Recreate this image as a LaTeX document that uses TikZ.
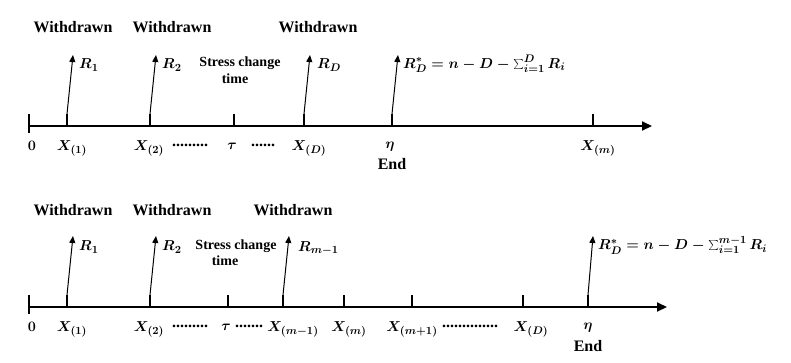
\documentclass[tikz,border=0pt]{standalone}
\usepackage{fontspec}
\setmainfont{Liberation Serif}
\usetikzlibrary{arrows.meta}
\begin{document}
\boldmath
\begin{tikzpicture}[x=1pt,y=-1pt,
  lbl/.style={font=\bfseries\fontsize{16}{18}\selectfont, inner sep=0pt},
  small/.style={font=\bfseries\fontsize{14}{16}\selectfont, inner sep=0pt},
  dotsty/.style={font=\bfseries\fontsize{16}{18}\selectfont, inner sep=0pt},
  mth/.style={font=\bfseries\fontsize{15.5}{17}\selectfont, inner sep=0pt},
  axisline/.style={line width=2pt,-{Triangle[length=10pt,width=9pt]}},
  tickmark/.style={line width=1.3pt},
  wd/.style={line width=1pt,-{Triangle[length=7pt,width=6pt]}}]
\useasboundingbox (0,0) rectangle (791,362);
% ---------- top panel ----------
\coordinate (A0) at (29,126);
\coordinate (A1) at (652,126);
\draw[axisline] (A0) -- (A1);
\draw[tickmark] (29,114) -- (29,133);
\foreach \x/\n in {67/a,150/b,234/c,304/d,392/e,593/f}
  \draw[tickmark] (\x,126) -- (\x,114) coordinate (T\n);
\coordinate (Pa) at (73,55);
\coordinate (Pb) at (156,55);
\coordinate (Pd) at (310,55);
\coordinate (Pe) at (398,55);
\draw[wd] (Ta) -- (Pa);
\draw[wd] (Tb) -- (Pb);
\draw[wd] (Td) -- (Pd);
\draw[wd] (Te) -- (Pe);
\node[lbl] (w1) at (73,27) {Withdrawn};
\node[lbl] (w2) at (172,27) {Withdrawn};
\node[lbl] (w3) at (318,27) {Withdrawn};
\node[mth,anchor=west] (r1) at (79,65) {$R_1$};
\node[mth,anchor=west] (r2) at (162,65) {$R_2$};
\node[mth,anchor=west] (rd) at (317,65) {$R_D$};
\node[mth,anchor=west] (rs) at (403,64) {$R_D^{*}=n-D-\sum_{i=1}^{D}R_i$};
\node[small] (s1) at (240,63) {Stress change};
\node[small] (s2) at (235,79) {time};
\node[mth] (x0) at (32,146) {$0$};
\node[mth] (x1) at (72,148) {$X_{(1)}$};
\node[mth] (x2) at (149,148) {$X_{(2)}$};
\node[dotsty] (d1) at (190,145) {.........};
\node[mth] (tau) at (232,146) {$\tau$};
\node[dotsty] (d2) at (263,145) {......};
\node[mth] (xd) at (309,148) {$X_{(D)}$};
\node[mth] (eta) at (390,147) {$\eta$};
\node[lbl] (end1) at (392,164) {End};
\node[mth] (xm) at (598,148) {$X_{(m)}$};
% ---------- bottom panel ----------
\coordinate (B0) at (29,307);
\coordinate (B1) at (667,307);
\draw[axisline] (B0) -- (B1);
\draw[tickmark] (29,295) -- (29,314);
\foreach \x/\n in {67/a,150/b,228/c,283/d,344/e,412/f,523/g,588/h}
  \draw[tickmark] (\x,307) -- (\x,295) coordinate (U\n);
\coordinate (Qa) at (73,236);
\coordinate (Qb) at (156,236);
\coordinate (Qd) at (289,236);
\coordinate (Qh) at (593,236);
\draw[wd] (Ua) -- (Qa);
\draw[wd] (Ub) -- (Qb);
\draw[wd] (Ud) -- (Qd);
\draw[wd] (Uh) -- (Qh);
\node[lbl] (v1) at (73,210) {Withdrawn};
\node[lbl] (v2) at (172,210) {Withdrawn};
\node[lbl] (v3) at (293,210) {Withdrawn};
\node[mth,anchor=west] (q1) at (79,247) {$R_1$};
\node[mth,anchor=west] (q2) at (162,247) {$R_2$};
\node[mth,anchor=west] (qm) at (298,248) {$R_{m-1}$};
\node[mth,anchor=west] (qs) at (598,245) {$R_D^{*}=n-D-\sum_{i=1}^{m-1}R_i$};
\node[small] (u1) at (236,246) {Stress change};
\node[small] (u2) at (225,261) {time};
\node[mth] (y0) at (32,327) {$0$};
\node[mth] (y1) at (72,329) {$X_{(1)}$};
\node[mth] (y2) at (149,329) {$X_{(2)}$};
\node[dotsty] (e1) at (190,326) {.........};
\node[mth] (ytau) at (226,327) {$\tau$};
\node[dotsty] (e2) at (249,326) {.......};
\node[mth] (ym1) at (293,329) {$X_{(m-1)}$};
\node[mth] (ym) at (349,329) {$X_{(m)}$};
\node[mth] (ymp) at (412,329) {$X_{(m+1)}$};
\node[dotsty] (e3) at (470,326) {..............};
\node[mth] (yd) at (531,329) {$X_{(D)}$};
\node[mth] (yeta) at (588,328) {$\eta$};
\node[lbl] (end2) at (588,346) {End};
\end{tikzpicture}
\end{document}
